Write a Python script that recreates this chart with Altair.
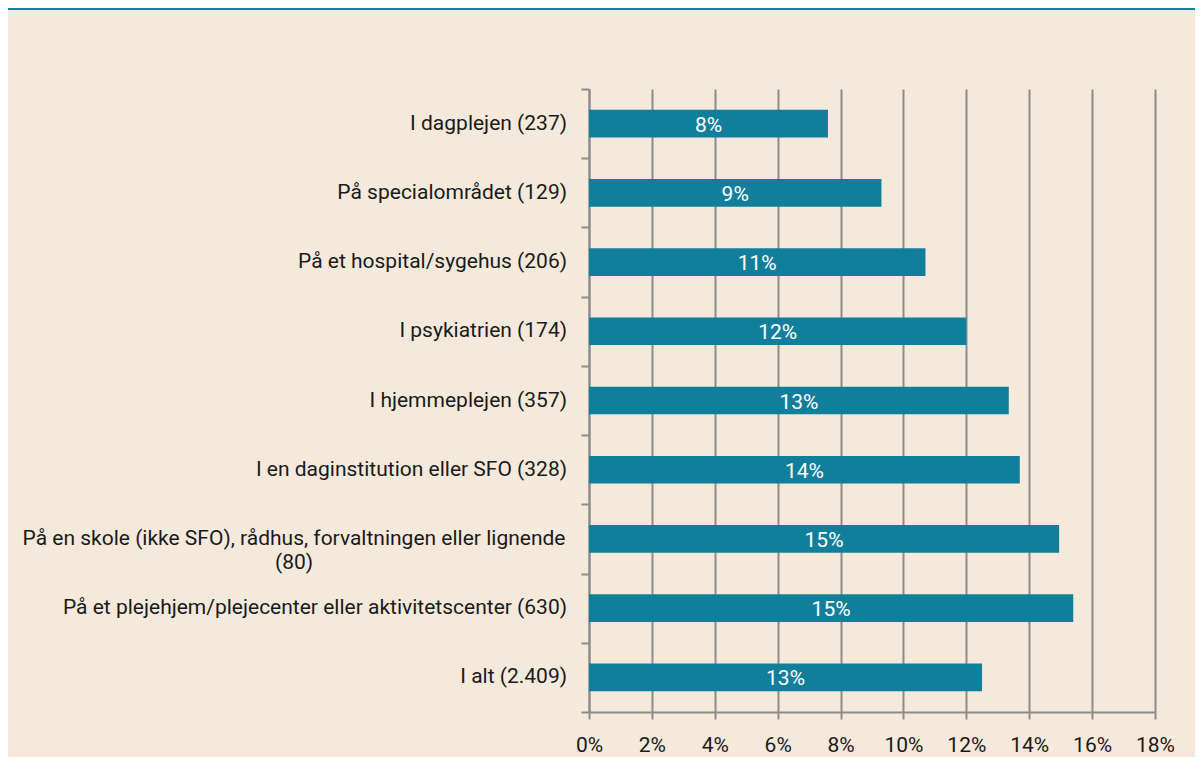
import altair as alt
import pandas as pd

categories = [
    "I dagplejen (237)",
    "På specialområdet (129)",
    "På et hospital/sygehus (206)",
    "I psykiatrien (174)",
    "I hjemmeplejen (357)",
    "I en daginstitution eller SFO (328)",
    "På en skole (ikke SFO), rådhus, forvaltningen eller lignende\n(80)",
    "På et plejehjem/plejecenter eller aktivitetscenter (630)",
    "I alt (2.409)",
]
values = [0.076, 0.093, 0.107, 0.120, 0.1335, 0.137, 0.1495, 0.154, 0.125]
bar_labels = ["8%", "9%", "11%", "12%", "13%", "14%", "15%", "15%", "13%"]
x_ticks = [0, 0.02, 0.04, 0.06, 0.08, 0.10, 0.12, 0.14, 0.16, 0.18]

df = pd.DataFrame({
    "cat": categories,
    "value": values,
    "label": bar_labels,
    "wrapped": ["\n" in c for c in categories],
})

FONT = "Roboto"
FS = 21
TEXT = "#1a1a1a"
GRID = "#8c8c8c"
BAR = "#117F9B"
BG = "#F5E9DC"

y_enc = alt.Y("cat:N", sort=categories,
              scale=alt.Scale(paddingInner=0, paddingOuter=0),
              axis=alt.Axis(title=None, labels=False, tickBand="extent",
                            ticks=True, tickSize=8, tickWidth=2, tickColor=GRID,
                            domainColor=GRID, domainWidth=2, grid=False))

x_enc = alt.X("value:Q",
              scale=alt.Scale(domain=[0, 0.18], nice=False),
              axis=alt.Axis(title=None, values=x_ticks, format=".0%",
                            grid=True, gridColor=GRID, gridWidth=2,
                            ticks=True, tickSize=7, tickWidth=2, tickColor=GRID,
                            domainColor=GRID, domainWidth=2, labelFlush=False,
                            labelFont=FONT, labelFontSize=FS, labelColor=TEXT,
                            labelPadding=15))

base = alt.Chart(df)

bars = base.mark_bar(color=BAR, height={"band": 0.4}).encode(x=x_enc, y=y_enc)

bar_text = base.mark_text(color="white", font=FONT, fontSize=FS,
                          baseline="middle", dy=2).encode(
    x=alt.X("mid:Q"), y=alt.Y("cat:N", sort=categories), text="label:N"
).transform_calculate(mid="datum.value / 2")

ylab = base.transform_filter("!datum.wrapped").mark_text(
    align="right", baseline="middle", font=FONT, fontSize=FS, color=TEXT
).encode(x=alt.value(-22), y=alt.Y("cat:N", sort=categories), text="cat:N")

ylab_wrap = base.transform_filter("datum.wrapped").mark_text(
    align="center", baseline="middle", font=FONT, fontSize=FS, color=TEXT,
    lineBreak="\n", lineHeight=24
).encode(x=alt.value(-295), y=alt.Y("cat:N", sort=categories), text="cat:N")

top_line = alt.Chart(pd.DataFrame({"a": [0]})).mark_rule(
    color="#0E8199", strokeWidth=2
).encode(x=alt.value(-581), x2=alt.value(606), y=alt.value(-80))

chart = alt.layer(bars, bar_text, ylab, ylab_wrap, top_line).properties(
    width=566, height=623,
    padding={"left": 581, "top": 81, "right": 40, "bottom": 45},
    autosize=alt.AutoSizeParams(type="none"),
    background=BG,
).configure_view(stroke=None)

chart.save("out.html", embed_options={"renderer": "svg", "actions": False})
